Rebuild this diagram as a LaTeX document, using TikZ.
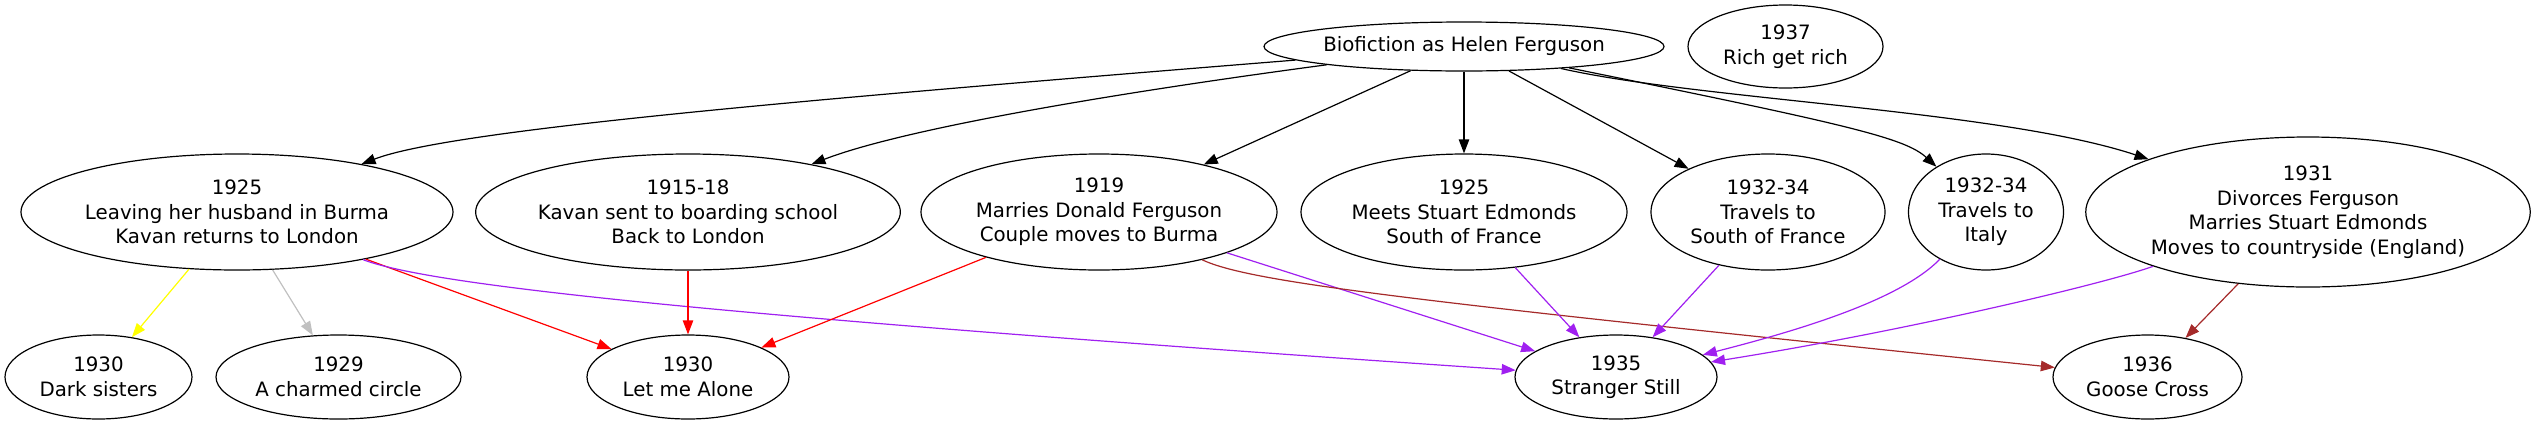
\documentclass[tikz,border=0pt]{standalone}
\usepackage{fontspec}
\setmainfont{DejaVu Sans}
\usepackage{tikz}
\usetikzlibrary{arrows.meta,shapes.geometric}
\usepackage{xcolor}
\definecolor{gvYellow}{HTML}{FFFF00}
\definecolor{gvGray}{HTML}{C0C0C0}
\definecolor{gvRed}{HTML}{FF0000}
\definecolor{gvPurple}{HTML}{A020F0}
\definecolor{gvBrown}{HTML}{A52A2A}
\tikzset{
    % event ellipses
    event/.style={ellipse,draw=black,line width=0.6pt,inner sep=0pt,align=center},
    % links between events
    link/.style={-{Triangle[length=7pt,width=5.2pt]},line width=0.6pt}
}

\begin{document}
\begin{tikzpicture}[x=0.5pt,y=-0.5pt,font=\fontsize{9.9}{12.25}\selectfont]
  \useasboundingbox (0,0) rectangle (2533,424);

  % Top row
  \node[event,minimum width=200pt,minimum height=24.5pt] (bio) at (1464,46.5) {Biofiction as Helen Ferguson};
  \node[event,minimum width=97.5pt,minimum height=41.5pt] (rich) at (1785.5,46.5) {1937\\Rich get rich};

  % Middle row
  \node[event,minimum width=216pt,minimum height=58pt] (leave) at (237,212) {1925\\Leaving her husband in Burma\\Kavan returns to London};
  \node[event,minimum width=210pt,minimum height=58pt] (school) at (688,212) {1915-18\\Kavan sent to boarding school\\Back to London};
  \node[event,minimum width=178pt,minimum height=58pt] (marry) at (1099,212) {1919\\Marries Donald Ferguson\\Couple moves to Burma};
  \node[event,minimum width=163pt,minimum height=58pt] (meets) at (1464,212) {1925\\Meets Stuart Edmonds\\South of France};
  \node[event,minimum width=117pt,minimum height=58pt] (travfr) at (1768,212) {1932-34\\Travels to\\South of France};
  \node[event,minimum width=77.5pt,minimum height=58pt] (travit) at (1986,212) {1932-34\\Travels to\\Italy};
  \node[event,minimum width=220pt,minimum height=75pt] (divorce) at (2308,212) {1931\\Divorces Ferguson\\Marries Stuart Edmonds\\Moves to countryside (England)};

  % Bottom row (books)
  \node[event,minimum width=93.5pt,minimum height=42pt] (dark) at (98.5,377) {1930\\Dark sisters};
  \node[event,minimum width=122.5pt,minimum height=42pt] (charm) at (338.5,377) {1929\\A charmed circle};
  \node[event,minimum width=101pt,minimum height=42pt] (alone) at (688,377) {1930\\Let me Alone};
  \node[event,minimum width=101pt,minimum height=42pt] (stranger) at (1616,377) {1935\\Stranger Still};
  \node[event,minimum width=94.5pt,minimum height=42pt] (goose) at (2147.5,377) {1936\\Goose Cross};

  % Links from the top node
  \draw[link] (bio) .. controls (800,100) and (450,130) .. (leave);
  \draw[link] (bio) .. controls (1100,95) and (900,130) .. (school);
  \draw[link] (bio) -- (marry);
  \draw[link] (bio) -- (meets);
  \draw[link] (bio) -- (travfr);
  \draw[link] (bio) .. controls (1850,125) and (1905,138) .. (travit);
  \draw[link] (bio) .. controls (1700,100) and (2000,110) .. (divorce);

  % Links to the books
  \draw[link,gvYellow] (leave) -- (dark);
  \draw[link,gvGray] (leave) -- (charm);
  \draw[link,gvRed] (leave) -- (alone);
  \draw[link,gvPurple] (leave) .. controls (430,285) and (700,315) .. (stranger);
  \draw[link,gvRed] (school) -- (alone);
  \draw[link,gvRed] (marry) -- (alone);
  \draw[link,gvPurple] (marry) -- (stranger);
  \draw[link,gvBrown] (marry) .. controls (1250,282) and (1400,300) .. (goose);
  \draw[link,gvPurple] (meets) -- (stranger);
  \draw[link,gvPurple] (travfr) -- (stranger);
  \draw[link,gvPurple] (travit) .. controls (1900,300) and (1800,330) .. (stranger);
  \draw[link,gvPurple] (divorce) .. controls (2100,285) and (1900,332) .. (stranger);
  \draw[link,gvBrown] (divorce) -- (goose);
\end{tikzpicture}
\end{document}
